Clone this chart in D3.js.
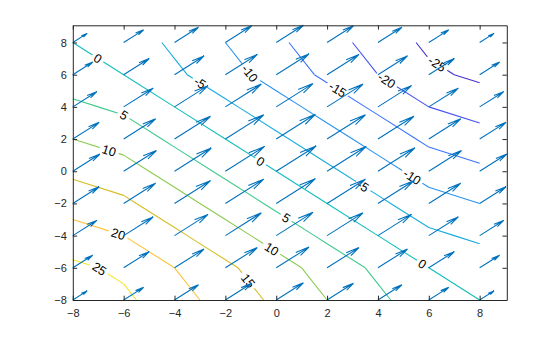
<!DOCTYPE html>
<html><head><meta charset="utf-8">
<script src="https://cdn.jsdelivr.net/npm/d3@7"></script>
<style>body{margin:0;background:#fff}</style>
</head><body>
<svg id="chart" width="560" height="337"></svg>
<script>
// ---------- data ----------
const xGrid = [-8, -6, -4, -2, 0, 2, 4, 6, 8];
const yGrid = [-8, -6, -4, -2, 0, 2, 4, 6, 8];
// contoured field: one row per yGrid value (bottom to top), columns follow xGrid
const zRows = [
  [28, 26, 22, 18, 14, 10, 6, 2, 0],
  [26, 24, 20, 16, 12, 8, 4, 0, -2],
  [22, 20, 16, 12, 8, 4, 0, -4, -6],
  [18, 16, 12, 8, 4, 0, -4, -8, -10],
  [14, 12, 8, 4, 0, -4, -8, -12, -14],
  [10, 8, 4, 0, -4, -8, -12, -16, -18],
  [6, 4, 0, -4, -8, -12, -16, -20, -22],
  [2, 0, -4, -8, -12, -16, -20, -24, -26],
  [0, -2, -6, -10, -14, -18, -22, -26, -28]
];
const contourLevels = [-25, -20, -15, -10, -5, 0, 5, 10, 15, 20, 25];
// quiver components (relative), rows follow yGrid, columns follow xGrid
const uRows = [
  [72, 100, 120, 132, 136, 132, 120, 100, 72],
  [100, 128, 148, 160, 164, 160, 148, 128, 100],
  [120, 148, 168, 180, 184, 180, 168, 148, 120],
  [132, 160, 180, 192, 196, 192, 180, 160, 132],
  [136, 164, 184, 196, 200, 196, 184, 164, 136],
  [132, 160, 180, 192, 196, 192, 180, 160, 132],
  [120, 148, 168, 180, 184, 180, 168, 148, 120],
  [100, 128, 148, 160, 164, 160, 148, 128, 100],
  [72, 100, 120, 132, 136, 132, 120, 100, 72]
];
const vRows = [
  [72, 100, 120, 132, 136, 132, 120, 100, 72],
  [100, 128, 148, 160, 164, 160, 148, 128, 100],
  [120, 148, 168, 180, 184, 180, 168, 148, 120],
  [132, 160, 180, 192, 196, 192, 180, 160, 132],
  [136, 164, 184, 196, 200, 196, 184, 164, 136],
  [132, 160, 180, 192, 196, 192, 180, 160, 132],
  [120, 148, 168, 180, 184, 180, 168, 148, 120],
  [100, 128, 148, 160, 164, 160, 148, 128, 100],
  [72, 100, 120, 132, 136, 132, 120, 100, 72]
];
const xTicks = [-8, -6, -4, -2, 0, 2, 4, 6, 8];
const yTicks = [-8, -6, -4, -2, 0, 2, 4, 6, 8];
// contour label levels and approximate anchor positions (data units)
const labelLevels = [0, -5, -10, -15, -20, -25, 5, 10, 0, -5, -10, 5, 10, 15, 20, 25, 0];
const labelX = [-7.03, -3.01, -1.04, 2.36, 4.33, 6.3, -6.03, -6.58, -0.65, 3.38, 5.31, 0.37, -0.2, -1.18, -6.23, -6.98, 5.7];
const labelY = [6.97, 5.46, 6.08, 4.94, 5.62, 6.6, 3.38, 1.26, 0.52, -1.02, -0.45, -2.95, -4.88, -6.89, -3.99, -6.12, -5.87];

// ---------- style ----------
const W = 560, H = 337;
const mLeft = 72.8, mRight = 506.8, mTop = 25.3, mBottom = 300;
const arrowScale = 0.00785;
const headAlpha = 0.33, headBeta = 0.22;
const axisColor = "#262626";
const arrowColor = "#0072bd";
const parulaAnchors = [
  [0.2422,0.1504,0.6603],[0.2504,0.1650,0.7076],[0.2578,0.1818,0.7511],[0.2647,0.1978,0.7952],
  [0.2706,0.2147,0.8364],[0.2751,0.2342,0.8710],[0.2783,0.2559,0.8991],[0.2803,0.2782,0.9221],
  [0.2813,0.3006,0.9414],[0.2810,0.3228,0.9579],[0.2795,0.3447,0.9717],[0.2760,0.3667,0.9829],
  [0.2699,0.3892,0.9906],[0.2602,0.4123,0.9952],[0.2440,0.4358,0.9988],[0.2206,0.4603,0.9973],
  [0.1963,0.4847,0.9892],[0.1834,0.5074,0.9798],[0.1786,0.5289,0.9682],[0.1764,0.5499,0.9520],
  [0.1687,0.5703,0.9359],[0.1540,0.5902,0.9218],[0.1460,0.6091,0.9079],[0.1380,0.6276,0.8973],
  [0.1248,0.6459,0.8883],[0.1113,0.6635,0.8763],[0.0952,0.6798,0.8598],[0.0689,0.6948,0.8394],
  [0.0297,0.7082,0.8163],[0.0036,0.7203,0.7917],[0.0067,0.7312,0.7660],[0.0433,0.7411,0.7394],
  [0.0964,0.7500,0.7120],[0.1408,0.7584,0.6842],[0.1717,0.7670,0.6554],[0.1938,0.7758,0.6251],
  [0.2161,0.7843,0.5923],[0.2470,0.7918,0.5567],[0.2906,0.7973,0.5188],[0.3406,0.8008,0.4789],
  [0.3909,0.8029,0.4354],[0.4456,0.8024,0.3909],[0.5044,0.7993,0.3480],[0.5616,0.7942,0.3045],
  [0.6174,0.7876,0.2612],[0.6720,0.7793,0.2227],[0.7242,0.7698,0.1910],[0.7738,0.7598,0.1646],
  [0.8203,0.7498,0.1535],[0.8634,0.7406,0.1596],[0.9035,0.7330,0.1774],[0.9393,0.7288,0.2100],
  [0.9728,0.7298,0.2394],[0.9956,0.7434,0.2371],[0.9970,0.7659,0.2199],[0.9952,0.7893,0.2028],
  [0.9892,0.8136,0.1885],[0.9786,0.8386,0.1766],[0.9676,0.8639,0.1643],[0.9610,0.8890,0.1537],
  [0.9597,0.9135,0.1423],[0.9628,0.9373,0.1265],[0.9691,0.9606,0.1064],[0.9769,0.9839,0.0805]
];
const parula = d3.scaleLinear()
  .domain(parulaAnchors.map((d, i) => i / (parulaAnchors.length - 1)))
  .range(parulaAnchors.map(c => d3.rgb(c[0]*255, c[1]*255, c[2]*255).toString()))
  .interpolate(d3.interpolateRgb);

// ---------- build ----------
const svg = d3.select("#chart");
svg.append("rect").attr("width", W).attr("height", H).attr("fill", "#fff");

const arrows = [];
yGrid.forEach((yv, j) => xGrid.forEach((xv, i) => {
  arrows.push({x: xv, y: yv, u: uRows[j][i] * arrowScale, v: vRows[j][i] * arrowScale});
}));
const xMax = d3.max(arrows, d => d.x + d.u);
const yMax = d3.max(arrows, d => d.y + d.v);

const x = d3.scaleLinear().domain([d3.min(xGrid), xMax]).range([mLeft, mRight]);
const y = d3.scaleLinear().domain([d3.min(yGrid), yMax]).range([mBottom, mTop]);

const zFlat = zRows.flat();
const zMin = d3.min(zFlat), zMax = d3.max(zFlat);
const colorOf = L => parula((L - zMin) / (zMax - zMin));

// marching squares -> segments
function segmentsFor(L) {
  const segs = [];
  for (let j = 0; j < yGrid.length - 1; j++) {
    for (let i = 0; i < xGrid.length - 1; i++) {
      const c = [
        [xGrid[i], yGrid[j], zRows[j][i]],
        [xGrid[i+1], yGrid[j], zRows[j][i+1]],
        [xGrid[i+1], yGrid[j+1], zRows[j+1][i+1]],
        [xGrid[i], yGrid[j+1], zRows[j+1][i]]
      ];
      const pts = [];
      for (let k = 0; k < 4; k++) {
        const a = c[k], b = c[(k+1)%4];
        const aa = a[2] >= L, bb = b[2] >= L;
        if (aa !== bb) {
          const t = (L - a[2]) / (b[2] - a[2]);
          pts.push([a[0] + t*(b[0]-a[0]), a[1] + t*(b[1]-a[1])]);
        }
      }
      for (let k = 0; k + 1 < pts.length; k += 2) {
        const p = pts[k], q = pts[k+1];
        if (Math.abs(p[0]-q[0]) + Math.abs(p[1]-q[1]) > 1e-9) segs.push([p, q]);
      }
    }
  }
  return segs;
}
const contourData = contourLevels.map(L => ({level: L, segs: segmentsFor(L)}));

// labels: place on nearest segment of the level
const fontLbl = 12.5;
const labels = labelLevels.map((L, k) => {
  const px = x(labelX[k]), py = y(labelY[k]);
  const segs = contourData.find(c => c.level === L).segs;
  let best = null;
  segs.forEach(s => {
    const ax = x(s[0][0]), ay = y(s[0][1]), bx = x(s[1][0]), by = y(s[1][1]);
    const dx = bx - ax, dy = by - ay;
    let t = ((px-ax)*dx + (py-ay)*dy) / (dx*dx + dy*dy);
    t = Math.max(0, Math.min(1, t));
    const qx = ax + t*dx, qy = ay + t*dy;
    const d = Math.hypot(px-qx, py-qy);
    if (!best || d < best.d) {
      let ang = Math.atan2(dy, dx) * 180 / Math.PI;
      if (ang > 90) ang -= 180;
      if (ang < -90) ang += 180;
      best = {d, qx, qy, ang};
    }
  });
  return {text: String(L), cx: best.qx, cy: best.qy, ang: best.ang};
});

// measure label widths
const measure = svg.append("text").attr("font-family", "Liberation Sans, Arial, Helvetica, sans-serif")
  .attr("font-size", fontLbl).attr("visibility", "hidden");
labels.forEach(l => { measure.text(l.text); l.w = measure.node().getComputedTextLength(); });
measure.remove();

const defs = svg.append("defs");
const mask = defs.append("mask").attr("id", "lblmask").attr("maskUnits", "userSpaceOnUse")
  .attr("x", 0).attr("y", 0).attr("width", W).attr("height", H);
mask.append("rect").attr("width", W).attr("height", H).attr("fill", "#fff");
mask.selectAll("rect.hole").data(labels).join("rect").attr("class", "hole")
  .attr("x", d => -d.w/2 - 3).attr("y", -fontLbl*0.45).attr("width", d => d.w + 6).attr("height", fontLbl*0.9)
  .attr("transform", d => `translate(${d.cx},${d.cy}) rotate(${d.ang})`).attr("fill", "#000");

const cg = svg.append("g").attr("mask", "url(#lblmask)");
contourData.forEach(c => {
  cg.append("path")
    .attr("d", c.segs.map(s => `M${x(s[0][0])},${y(s[0][1])}L${x(s[1][0])},${y(s[1][1])}`).join(""))
    .attr("fill", "none").attr("stroke", colorOf(c.level)).attr("stroke-width", 1.1);
});

svg.append("g").selectAll("text").data(labels).join("text")
  .attr("transform", d => `translate(${d.cx},${d.cy}) rotate(${d.ang})`)
  .attr("text-anchor", "middle").attr("dy", "0.36em")
  .attr("font-family", "Liberation Sans, Arial, Helvetica, sans-serif").attr("font-size", fontLbl)
  .attr("fill", "#000").text(d => d.text);

// arrows
svg.append("g").selectAll("path").data(arrows).join("path")
  .attr("d", d => {
    const xe = d.x + d.u, ye = d.y + d.v;
    const h1x = xe - headAlpha*(d.u + headBeta*d.v), h1y = ye - headAlpha*(d.v - headBeta*d.u);
    const h2x = xe - headAlpha*(d.u - headBeta*d.v), h2y = ye - headAlpha*(d.v + headBeta*d.u);
    return `M${x(d.x)},${y(d.y)}L${x(xe)},${y(ye)}M${x(h1x)},${y(h1y)}L${x(xe)},${y(ye)}L${x(h2x)},${y(h2y)}`;
  })
  .attr("fill", "none").attr("stroke", arrowColor).attr("stroke-width", 1.1);

// axes
const tickLen = 4.3;
const fontAx = "Liberation Sans, Arial, Helvetica, sans-serif";
function styleAxis(g) {
  g.selectAll("path.domain").attr("stroke", axisColor).attr("stroke-width", 1);
  g.selectAll(".tick line").attr("stroke", axisColor).attr("stroke-width", 1);
  g.selectAll(".tick text").attr("fill", axisColor).attr("font-family", fontAx).attr("font-size", 11);
}
svg.append("g").attr("transform", `translate(0,${mBottom})`)
  .call(d3.axisBottom(x).tickValues(xTicks).tickSizeInner(-tickLen).tickSizeOuter(0).tickPadding(9).tickFormat(d3.format("d")))
  .call(styleAxis);
svg.append("g").attr("transform", `translate(0,${mTop})`)
  .call(d3.axisTop(x).tickValues(xTicks).tickSizeInner(-tickLen).tickSizeOuter(0).tickFormat(""))
  .call(styleAxis);
svg.append("g").attr("transform", `translate(${mLeft},0)`)
  .call(d3.axisLeft(y).tickValues(yTicks).tickSizeInner(-tickLen).tickSizeOuter(0).tickPadding(6).tickFormat(d3.format("d")))
  .call(styleAxis);
svg.append("g").attr("transform", `translate(${mRight},0)`)
  .call(d3.axisRight(y).tickValues(yTicks).tickSizeInner(-tickLen).tickSizeOuter(0).tickFormat(""))
  .call(styleAxis);
</script>
</body></html>
